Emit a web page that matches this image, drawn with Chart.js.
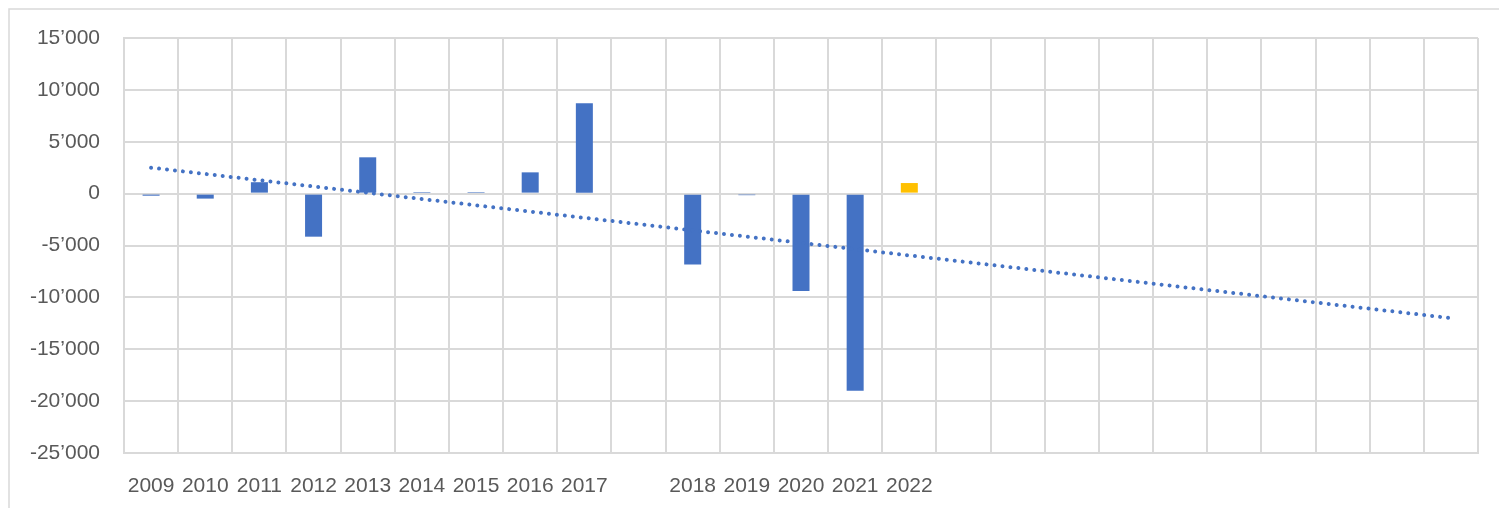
<!DOCTYPE html>
<html>
<head>
<meta charset="utf-8">
<script src="https://cdn.jsdelivr.net/npm/chart.js@4"></script>
<style>
    html, body { margin: 0; padding: 0; background: #fff; }
    #wrap { width: 1499px; height: 508px; position: relative; }
</style>
</head>
<body>
<div id="wrap"><canvas id="saldoChart" width="1499" height="508"></canvas></div>
<script>
// categorie (anni) - colonne vuote come nel foglio originale
const anni = ['2009', '2010', '2011', '2012', '2013', '2014', '2015', '2016', '2017', '',
    '2018', '2019', '2020', '2021', '2022',
    '', '', '', '', '', '', '', '', '', ''];

// saldo annuale
const saldo = [-200, -480, 1100, -4150, 3500, 150, 150, 2050, 8700, null,
    -6820, -150, -9380, -19000, 1020,
    null, null, null, null, null, null, null, null, null, null];

// linea di tendenza: solo inizio e fine
const tendenza = [2500, null, null, null, null, null, null, null, null, null,
    null, null, null, null, null,
    null, null, null, null, null, null, null, null, null, -12000];

const yTicks = { min: -25000, max: 15000, step: 5000 };

const blu = '#4472C4';
const giallo = '#FFC000';
const griglia = '#D9D9D9';
const testo = '#595959';

const coloriBarre = anni.map(a => a === '2022' ? giallo : blu);

const cornice = {
    id: 'cornice',
    beforeDraw(chart) {
        const ctx = chart.ctx;
        ctx.save();
        ctx.strokeStyle = griglia;
        ctx.lineWidth = 1.5;
        ctx.strokeRect(9, 9, 1520, 520);
        ctx.restore();
    }
};

const ctx = document.getElementById('saldoChart').getContext('2d');
new Chart(ctx, {
    type: 'bar',
    data: {
        labels: anni,
        datasets: [{
            type: 'bar',
            data: saldo,
            backgroundColor: coloriBarre,
            borderWidth: 0,
            barPercentage: 0.314,
            categoryPercentage: 1,
            order: 2
        }, {
            type: 'line',
            data: tendenza,
            spanGaps: true,
            borderColor: blu,
            borderWidth: 4,
            borderDash: [0.01, 8],
            borderCapStyle: 'round',
            pointRadius: 0,
            fill: false,
            order: 1
        }]
    },
    options: {
        responsive: false,
        animation: false,
        layout: {
            padding: { top: 38, right: 21, left: 0, bottom: 0 }
        },
        scales: {
            x: {
                offset: true,
                grid: {
                    color: griglia,
                    lineWidth: 2,
                    offset: true,
                    drawTicks: false
                },
                border: { color: griglia, width: 2 },
                ticks: {
                    color: testo,
                    font: { family: 'Liberation Sans', size: 21 },
                    padding: 21,
                    maxRotation: 0,
                    autoSkip: false
                },
                afterFit(scale) { scale.height = 55; }
            },
            y: {
                min: yTicks.min,
                max: yTicks.max,
                grid: {
                    color: griglia,
                    lineWidth: 2,
                    drawTicks: false
                },
                border: { color: griglia, width: 2 },
                ticks: {
                    stepSize: yTicks.step,
                    color: testo,
                    font: { family: 'Liberation Sans', size: 21 },
                    padding: 24,
                    callback: v => v.toLocaleString('en-US').replace(/,/g, '’')
                },
                afterFit(scale) { scale.width = 124; }
            }
        },
        plugins: {
            legend: { display: false },
            tooltip: { enabled: false }
        }
    },
    plugins: [cornice]
});
</script>
</body>
</html>
